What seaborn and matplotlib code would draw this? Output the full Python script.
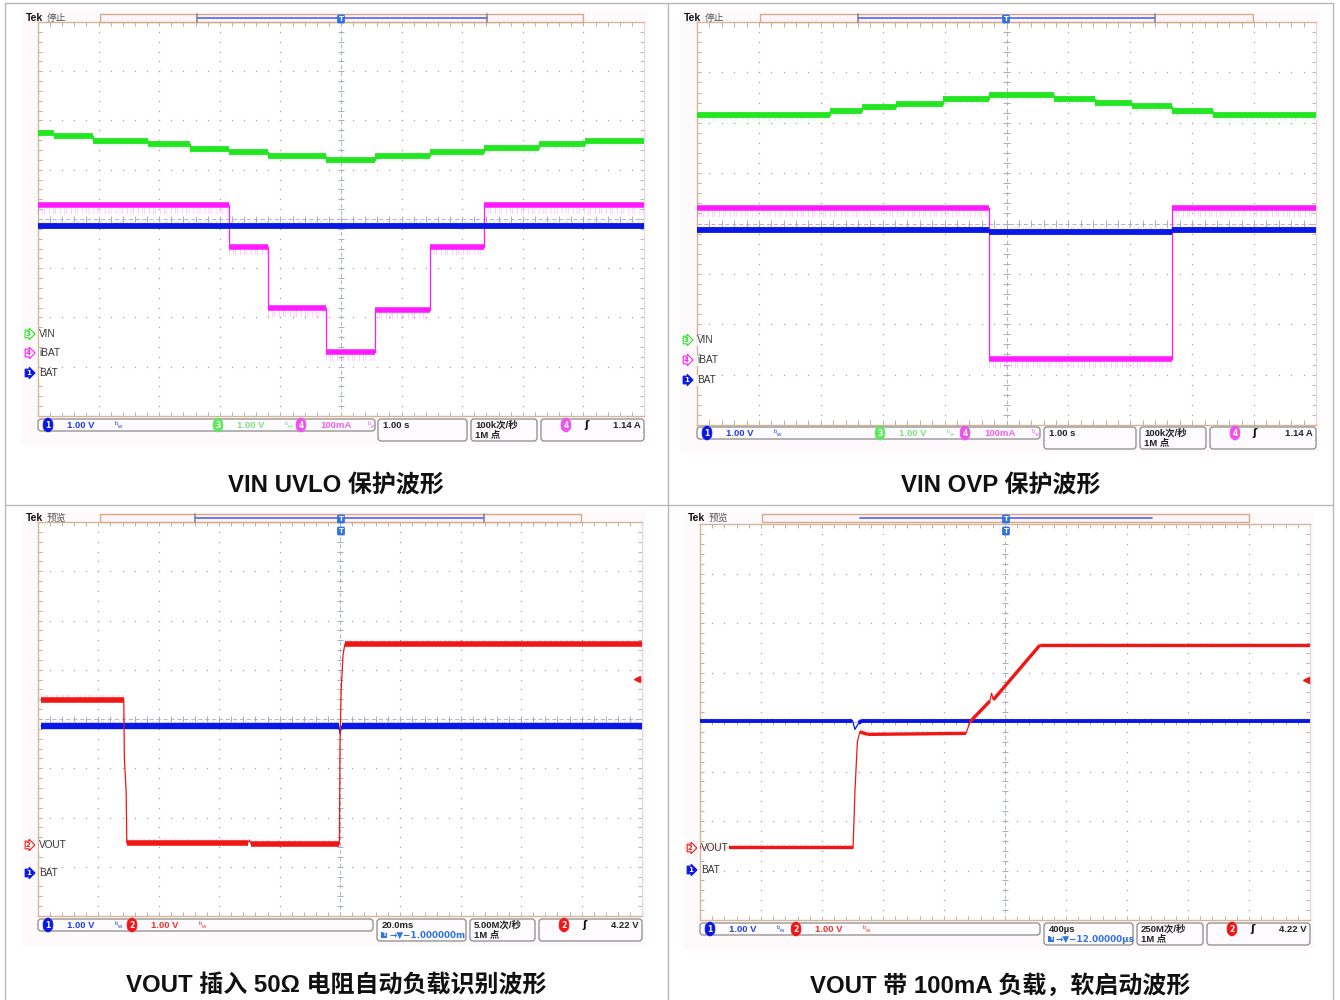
import numpy as np
import pandas as pd
import matplotlib
matplotlib.use("Agg")
import matplotlib.pyplot as plt
import seaborn as sns
from matplotlib.patches import Rectangle, FancyBboxPatch
from matplotlib.collections import LineCollection

# ---------------- waveform data (screen divisions: x 0..10, y 0..8) ----------------
uvlo_vin_edges = [0, 0.26, 0.90, 1.81, 2.50, 3.15, 3.80, 4.76, 5.56, 6.47, 7.36, 8.27, 9.02, 10]
uvlo_vin_levels = [5.75, 5.69, 5.59, 5.52, 5.43, 5.36, 5.28, 5.20, 5.28, 5.37, 5.44, 5.52, 5.59]
uvlo_ibat_edges = [0, 3.15, 3.80, 4.76, 5.56, 6.47, 7.36, 10]
uvlo_ibat_levels = [4.28, 3.44, 2.19, 1.29, 2.15, 3.44, 4.28]
uvlo_bat_edges = [0, 10]
uvlo_bat_levels = [3.86]

ovp_vin_edges = [0, 2.15, 2.66, 3.21, 3.97, 4.71, 5.77, 6.43, 7.03, 7.68, 8.33, 10]
ovp_vin_levels = [6.15, 6.23, 6.32, 6.38, 6.47, 6.56, 6.48, 6.40, 6.33, 6.23, 6.15]
ovp_ibat_edges = [0, 4.71, 7.68, 10]
ovp_ibat_levels = [4.30, 1.32, 4.30]
ovp_bat_edges = [0, 4.71, 7.68, 10]
ovp_bat_levels = [3.87, 3.84, 3.87]

load_vout_t = [0.05, 1.42, 1.43, 1.46, 1.47, 3.47, 3.50, 3.53, 4.99, 5.00, 5.02, 5.05, 5.08, 10.0]
load_vout_v = [4.39, 4.39, 3.20, 2.50, 1.48, 1.48, 1.54, 1.46, 1.46, 3.50, 4.60, 5.30, 5.52, 5.52]
load_bat_t = [0.05, 4.98, 5.00, 5.03, 10.0]
load_bat_v = [3.86, 3.86, 3.70, 3.86, 3.86]

soft_vout_t = [0, 2.51, 2.54, 2.58, 2.62, 2.75, 4.36, 4.43, 4.75, 4.78, 4.81, 5.57, 10]
soft_vout_v = [1.48, 1.48, 2.60, 3.60, 3.80, 3.75, 3.77, 4.01, 4.42, 4.58, 4.45, 5.55, 5.55]
soft_bat_t = [0, 2.50, 2.54, 2.60, 2.66, 10]
soft_bat_v = [4.03, 4.03, 3.85, 3.98, 4.03, 4.03]

captions = ["VIN UVLO 保护波形", "VIN OVP 保护波形",
            "VOUT 插入 50Ω 电阻自动负载识别波形", "VOUT 带 100mA 负载，软启动波形"]
timebase = ["1.00 s", "1.00 s", "20.0ms", "400µs"]
trig_offset = [None, None, "→▼−1.000000m", "→▼−12.00000µs"]
sample_rate = ["100k次/秒", "100k次/秒", "5.00M次/秒", "250M次/秒"]
record_len = ["1M 点", "1M 点", "1M 点", "1M 点"]
trig_level = ["1.14 A", "1.14 A", "4.22 V", "4.22 V"]
scope_state = ["停止", "停止", "预览", "预览"]

GREEN = "#22e622"
MAGENTA = "#ff1aff"
BLUE = "#0a18e6"
RED = "#f01616"

sns.set_theme(style="white")
plt.rcParams["font.family"] = ["Liberation Sans", "Noto Sans CJK SC", "DejaVu Sans"]
plt.rcParams["lines.scale_dashes"] = False

W, H = 1340, 1000
fig = plt.figure(figsize=(W / 100, H / 100), dpi=100)
fig.patch.set_facecolor("white")


def px_axes(z):
    a = fig.add_axes([0, 0, 1, 1], zorder=z)
    a.set_xlim(0, W)
    a.set_ylim(H, 0)
    a.axis("off")
    a.patch.set_alpha(0)
    return a


bg = px_axes(0)
fg = px_axes(5)


def grat_axes(x0, y0, x1, y1):
    a = fig.add_axes([x0 / W, 1 - y1 / H, (x1 - x0) / W, (y1 - y0) / H], zorder=2)
    a.set_xlim(0, 10)
    a.set_ylim(0, 8)
    a.set_xticks([])
    a.set_yticks([])
    a.set_facecolor("white")
    for s in a.spines.values():
        s.set_color("#d6b496")
        s.set_linewidth(1.0)
    a.spines["right"].set_color("#e8d8e2")
    fx = np.arange(0, 10.001, 0.2)
    fy = np.arange(0, 8.001, 0.2)
    pts = [(x, y) for x in range(1, 10) if x != 5 for y in fy]
    pts += [(x, y) for y in range(1, 8) if y != 4 for x in fx]
    pts = np.array(pts)
    a.scatter(pts[:, 0], pts[:, 1], s=1.0, c="#a4a4a4", linewidths=0, zorder=1)
    a.axvline(5, color="#b0b6c8", lw=0.7, ls=(0, (3, 2)), zorder=1)
    a.axhline(4, color="#b0b6c8", lw=0.7, ls=(0, (3, 2)), zorder=1)
    ticks = [[(5 - 0.05, y), (5 + 0.05, y)] for y in fy]
    ticks += [[(x, 4 - 0.07), (x, 4 + 0.07)] for x in fx]
    a.add_collection(LineCollection(ticks, colors="#a8aec2", linewidths=0.7, zorder=1))
    edge = [[(x, 0), (x, 0.09)] for x in fx] + [[(x, 8), (x, 7.91)] for x in fx]
    edge += [[(0, y), (0.07, y)] for y in fy] + [[(10, y), (9.93, y)] for y in fy]
    a.add_collection(LineCollection(edge, colors="#b8b0b0", linewidths=0.7, zorder=1))
    return a


def step_vertices(edges, levels):
    xs, ys = [], []
    for i, lv in enumerate(levels):
        xs += [edges[i], edges[i + 1]]
        ys += [lv, lv]
    return xs, ys


def trace(ax, t, v, color, lw, fringe=0.0, fringe_lw=None, fringe_alpha=0.3):
    t = np.asarray(t, float)
    v = np.asarray(v, float)
    df = pd.DataFrame({"t": t, "v": v})
    sns.lineplot(data=df, x="t", y="v", ax=ax, color=color, lw=0.9,
                 estimator=None, sort=False, legend=False, zorder=4)
    dt, dv = np.diff(t), np.diff(v)
    flat = np.abs(dv) <= 1.6 * np.abs(dt)
    segs = [[(t[i], v[i]), (t[i + 1], v[i + 1])] for i in np.flatnonzero(flat)]
    ax.add_collection(LineCollection(segs, colors=color, linewidths=lw,
                                     capstyle="butt", zorder=4))
    if fringe:
        fs = [[(p[0], p[1] + fringe), (q[0], q[1] + fringe)] for p, q in segs]
        ax.add_collection(LineCollection(fs, colors=color, alpha=fringe_alpha,
                                         linewidths=fringe_lw or lw * 0.8,
                                         linestyles=[(0, (0.5, 2.3, 0.5, 1.1, 0.5, 3.1))],
                                         zorder=3))
    ax.set_xlim(0, 10)
    ax.set_ylim(0, 8)
    ax.set_xlabel("")
    ax.set_ylabel("")


LAYOUT = [
    dict(screen=(22, 10, 648, 446), grat=(38, 22, 644, 416), bar=(100, 583, 18),
         win=(197, 487, True), tpos=341, tek=(26, 18), tmark=False, by=419,
         boxes=[(38, 375), (378, 467), (471, 537), (541, 644)], cx=26,
         chans=[("1", BLUE, "1.00 V", "#2040e0", 48), ("3", "#5ee85e", "1.00 V", "#80e080", 218),
                ("4", "#f050f0", "100mA", "#f060f0", 301)],
         tch=("4", "#f050f0"),
         gnd=[("3", GREEN, False, "VIN", 334), ("4", MAGENTA, False, "iBAT", 353),
              ("1", BLUE, True, "BAT", 373)], trig=None),
    dict(screen=(680, 10, 1320, 452), grat=(697, 22, 1316, 425), bar=(760, 1253, 18),
         win=(858, 1155, True), tpos=1006, tek=(684, 18), tmark=False, by=427,
         boxes=[(697, 1040), (1044, 1136), (1140, 1206), (1210, 1316)], cx=684,
         chans=[("1", BLUE, "1.00 V", "#2040e0", 707), ("3", "#5ee85e", "1.00 V", "#80e080", 880),
                ("4", "#f050f0", "100mA", "#f060f0", 965)],
         tch=("4", "#f050f0"),
         gnd=[("3", GREEN, False, "VIN", 340), ("4", MAGENTA, False, "iBAT", 360),
              ("1", BLUE, True, "BAT", 380)], trig=None),
    dict(screen=(22, 510, 646, 946), grat=(38, 522, 642, 916), bar=(100, 581, 518),
         win=(195, 484, True), tpos=341, tek=(26, 518), tmark=True, by=919,
         boxes=[(38, 373), (377, 466), (470, 535), (539, 642)], cx=26,
         chans=[("1", BLUE, "1.00 V", "#2040e0", 48), ("2", RED, "1.00 V", "#f03030", 132)],
         tch=("2", RED),
         gnd=[("2", RED, False, "VOUT", 845), ("1", BLUE, True, "BAT", 873)], trig=(637, 679)),
    dict(screen=(684, 510, 1314, 950), grat=(700, 524, 1310, 920), bar=(762, 1249, 518),
         win=(860, 1152, False), tpos=1006, tek=(688, 518), tmark=True, by=923,
         boxes=[(700, 1040), (1044, 1133), (1137, 1203), (1207, 1310)], cx=688,
         chans=[("1", BLUE, "1.00 V", "#2040e0", 710), ("2", RED, "1.00 V", "#f03030", 796)],
         tch=("2", RED),
         gnd=[("2", RED, False, "VOUT", 848), ("1", BLUE, True, "BAT", 870)], trig=(1306, 680)),
]

CAP_POS = [(336, 485), (1001, 485), (336, 986), (1000, 986)]


def badge(x, y, num, color, fs=5.5):
    fg.text(x, y, num, ha="center", va="center", fontsize=fs, color="white",
            fontweight="bold", family=["DejaVu Sans"],
            bbox=dict(boxstyle="round,pad=0.3,rounding_size=0.8", fc=color, ec=color, lw=0.5),
            zorder=6)


def bw_icon(x, y, color):
    fg.text(x, y - 1.5, "b", fontsize=4.2, color=color, ha="center", va="center", zorder=6)
    fg.text(x + 3, y + 2, "w", fontsize=4.2, color=color, ha="center", va="center", zorder=6)


def rbox(x0, y0, x1, y1):
    p = FancyBboxPatch((x0, y0), x1 - x0, y1 - y0,
                       boxstyle="round,pad=0,rounding_size=3",
                       fc="#fdfbfd", ec="#8a8a8a", lw=0.9, zorder=3)
    fg.add_patch(p)
    return p


for k, L in enumerate(LAYOUT):
    sx0, sy0, sx1, sy1 = L["screen"]
    bg.add_patch(Rectangle((sx0, sy0), sx1 - sx0, sy1 - sy0, fc="#fefafc", ec="none", zorder=1))

    # top record bar
    bx0, bx1, byc = L["bar"]
    fg.add_patch(Rectangle((bx0, byc - 4), bx1 - bx0, 8, fc="#fdf4f9", ec="#d2aa8a", lw=1.0, zorder=2))
    wx0, wx1, brk = L["win"]
    fg.plot([wx0, wx1], [byc, byc], color="#5464f0", lw=1.2, zorder=3)
    if brk:
        for xb in (wx0, wx1):
            fg.plot([xb, xb], [byc - 4, byc + 4], color="#7c8aa0", lw=1.2, zorder=3)
    fg.text(L["tpos"], byc + 1, "T", ha="center", va="center", color="white", fontsize=5,
            fontweight="bold", family=["DejaVu Sans"],
            bbox=dict(boxstyle="round,pad=0.2", fc="#2f72e0", ec="none"), zorder=6)
    if L["tmark"]:
        fg.text(L["tpos"], byc + 13, "T", ha="center", va="center", color="white", fontsize=5,
                fontweight="bold", family=["DejaVu Sans"],
                bbox=dict(boxstyle="round,pad=0.2", fc="#2f72e0", ec="none"), zorder=6)

    tx, ty = L["tek"]
    fg.text(tx, ty, "Tek", fontsize=7.5, fontweight="bold", color="#111", va="center", zorder=6)
    fg.text(tx + 21, ty, scope_state[k], fontsize=7, color="#555", va="center", zorder=6)

    # graticule and traces
    ax = grat_axes(*L["grat"])
    if k == 0:
        trace(ax, *step_vertices(uvlo_vin_edges, uvlo_vin_levels), GREEN, 4.2, fringe=-0.05)
        trace(ax, *step_vertices(uvlo_ibat_edges, uvlo_ibat_levels), MAGENTA, 4.0,
              fringe=-0.12, fringe_lw=4.5)
        trace(ax, *step_vertices(uvlo_bat_edges, uvlo_bat_levels), BLUE, 4.2,
              fringe=0.07, fringe_lw=2.5, fringe_alpha=0.2)
    elif k == 1:
        trace(ax, *step_vertices(ovp_vin_edges, ovp_vin_levels), GREEN, 4.2, fringe=-0.05)
        trace(ax, *step_vertices(ovp_ibat_edges, ovp_ibat_levels), MAGENTA, 4.0,
              fringe=-0.12, fringe_lw=4.5)
        trace(ax, *step_vertices(ovp_bat_edges, ovp_bat_levels), BLUE, 4.2,
              fringe=0.07, fringe_lw=2.5, fringe_alpha=0.2)
    elif k == 2:
        trace(ax, load_bat_t, load_bat_v, BLUE, 4.6, fringe=0.07, fringe_lw=2.5, fringe_alpha=0.2)
        trace(ax, load_vout_t, load_vout_v, RED, 4.0, fringe=0.05, fringe_lw=3.0)
    else:
        trace(ax, soft_bat_t, soft_bat_v, BLUE, 2.8, fringe=0.04, fringe_lw=2.0, fringe_alpha=0.2)
        trace(ax, soft_vout_t, soft_vout_v, RED, 2.4, fringe=0.03, fringe_lw=2.0)

    # channel ground markers
    for num, col, filled, name, gy in L["gnd"]:
        fg.text(L["cx"], gy, num, ha="left", va="center", fontsize=5,
                color="white" if filled else col, family=["DejaVu Sans"], fontweight="bold",
                bbox=dict(boxstyle="rarrow,pad=0.12", fc=col if filled else "white", ec=col, lw=0.8),
                zorder=6)
        fg.text(L["cx"] + 13, gy, name, ha="left", va="center", fontsize=7.2, color="#333",
                zorder=6, bbox=dict(boxstyle="square,pad=0.05", fc="white", ec="none", alpha=0.9))

    if L["trig"] is not None:
        fg.plot([L["trig"][0]], [L["trig"][1]], marker="<", ms=4, color=RED, zorder=6)

    # bottom readout boxes
    by = L["by"]
    b1, b2, b3, b4 = L["boxes"]
    rbox(b1[0], by, b1[1], by + 12)
    p2 = rbox(b2[0], by, b2[1], by + 22)
    rbox(b3[0], by, b3[1], by + 22)
    rbox(b4[0], by, b4[1], by + 22)
    yc = by + 6
    for num, bcol, val, tcol, xb in L["chans"]:
        badge(xb, yc, num, bcol)
        fg.text(xb + 19, yc, val, ha="left", va="center", fontsize=6.8, color=tcol,
                fontweight="bold", zorder=6)
        bw_icon(xb + 68, yc, tcol)
    fg.text(b2[0] + 5, yc, timebase[k], ha="left", va="center", fontsize=6.8,
            fontweight="bold", color="#222", zorder=6)
    if trig_offset[k]:
        fg.text(b2[0] + 5, yc + 10, "T", ha="left", va="center", fontsize=4.5, color="white",
                family=["DejaVu Sans"], fontweight="bold",
                bbox=dict(boxstyle="square,pad=0.15", fc="#2f72e0", ec="none"), zorder=6)
        t2 = fg.text(b2[0] + 12, yc + 10, trig_offset[k], ha="left", va="center", fontsize=6.3,
                     color="#2f72e0", fontweight="bold", zorder=6,
                     family=["DejaVu Sans"])
        t2.set_clip_path(p2)
    fg.text(b3[0] + 4, yc, sample_rate[k], ha="left", va="center", fontsize=6.8,
            fontweight="bold", color="#222", zorder=6)
    fg.text(b3[0] + 4, yc + 10, record_len[k], ha="left", va="center", fontsize=6.8,
            fontweight="bold", color="#222", zorder=6)
    badge(b4[0] + 25, yc, L["tch"][0], L["tch"][1])
    fg.text(b4[0] + 45, yc, "ʃ", ha="center", va="center", fontsize=7.5, color="#111",
            family=["DejaVu Sans"], fontweight="bold", zorder=6)
    fg.text(b4[1] - 3, yc, trig_level[k], ha="right", va="center", fontsize=6.8,
            fontweight="bold", color="#222", zorder=6)

    # caption
    cx, cy = CAP_POS[k]
    fg.text(cx, cy, captions[k], ha="center", va="center", fontsize=17.3, fontweight="bold",
            color="#111", family=["Liberation Sans", "Noto Sans CJK SC"], zorder=6)

# table rules
rule = dict(color="#b8b8b8", lw=1.0, zorder=2)
bg.plot([5, 1333], [3, 3], **rule)
bg.plot([5, 5], [3, 1000], **rule)
bg.plot([1333, 1333], [3, 1000], **rule)
bg.plot([668, 668], [3, 1000], **rule)
bg.plot([5, 1333], [505, 505], **rule)

fig.savefig("out.png", dpi=100, facecolor="white")
